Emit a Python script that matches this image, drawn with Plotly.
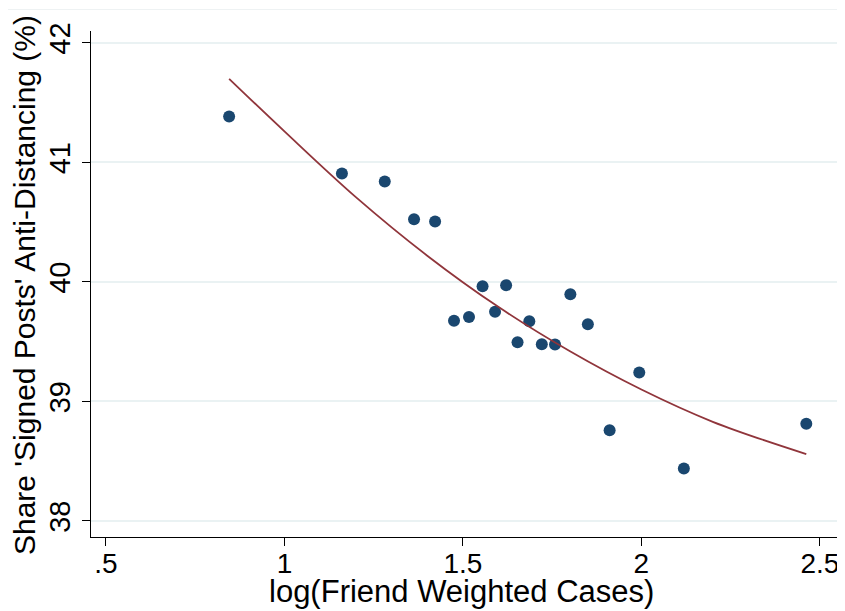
import plotly.graph_objects as go

# Binned scatter points
bin_x = [0.845, 1.161, 1.281, 1.363, 1.422, 1.475, 1.517, 1.555, 1.590, 1.621,
         1.653, 1.686, 1.721, 1.758, 1.801, 1.850, 1.911, 1.994, 2.119, 2.462]
bin_y = [41.385, 40.908, 40.841, 40.524, 40.506, 39.675, 39.706, 39.965, 39.750, 39.973,
         39.496, 39.672, 39.479, 39.477, 39.898, 39.647, 38.760, 39.243, 38.439, 38.813]

# Quadratic fit line
fit_x = [0.845, 1.0, 1.2, 1.4, 1.6, 1.8, 2.0, 2.2, 2.462]
fit_y = [41.70, 41.26, 40.71, 40.22, 39.79, 39.42, 39.10, 38.83, 38.56]

x_ticks = [0.5, 1.0, 1.5, 2.0, 2.5]
x_tick_text = [".5", "1", "1.5", "2", "2.5"]
y_ticks = [38, 39, 40, 41, 42]
y_tick_text = ["38", "39", "40", "41", "42"]

x_title = "log(Friend Weighted Cases)"
y_title = "Share 'Signed Posts' Anti-Distancing (%)"

FONT = "Liberation Sans, Arial, sans-serif"

fig = go.Figure()
fig.add_trace(go.Scatter(
    x=bin_x, y=bin_y, mode="markers",
    marker=dict(color="#1A476F", size=12, line=dict(width=0)),
    showlegend=False,
))
fig.add_trace(go.Scatter(
    x=fit_x, y=fit_y, mode="lines", line_shape="spline",
    line=dict(color="#90353B", width=1.8),
    showlegend=False,
))

fig.update_layout(
    width=845, height=611,
    margin=dict(l=83, r=16, t=23, b=82, autoexpand=False),
    paper_bgcolor="white", plot_bgcolor="white",
    font=dict(family=FONT, color="black", size=29),
    xaxis=dict(
        range=[0.458, 2.548], tickvals=x_ticks, ticktext=x_tick_text,
        automargin=False,
        showline=True, linecolor="black", linewidth=1.2, mirror=False,
        ticks="outside", ticklen=8, tickwidth=1.2, tickcolor="black",
        ticklabelstandoff=-7,
        showgrid=False, zeroline=False,
        tickfont=dict(size=28),
    ),
    yaxis=dict(
        range=[37.866, 42.10], tickvals=y_ticks, ticktext=y_tick_text,
        tickangle=-90, automargin=False,
        showline=True, linecolor="black", linewidth=1.2,
        ticks="outside", ticklen=8, tickwidth=1.2, tickcolor="black",
        showgrid=True, gridcolor="#EAF2F3", gridwidth=1.5,
        zeroline=False,
        tickfont=dict(size=29),
    ),
    annotations=[
        dict(text=x_title, xref="paper", yref="paper", x=0.496, y=-0.108,
             xanchor="center", yanchor="middle", showarrow=False,
             font=dict(size=31, family=FONT, color="black")),
        dict(text=y_title, xref="paper", yref="paper", x=-0.0898, y=0.498,
             xanchor="center", yanchor="middle", showarrow=False, textangle=-90,
             font=dict(size=30, family=FONT, color="black")),
    ],
    shapes=[dict(type="line", xref="paper", yref="paper",
                 x0=-0.12, x1=1.03, y0=1.0425, y1=1.0425,
                 line=dict(color="#EEF2F3", width=1.2))],
)

fig.write_html("out.html")
